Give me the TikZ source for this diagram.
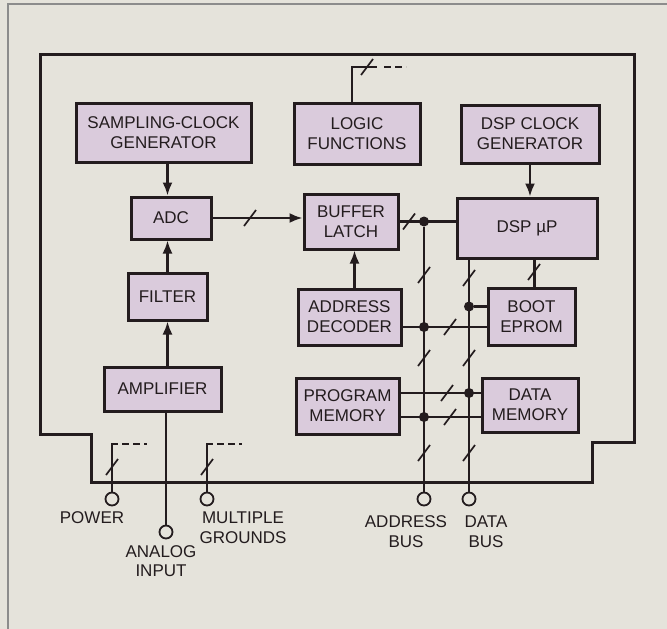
\documentclass[tikz,border=0pt]{standalone}
\usepackage{fontspec}
\setmainfont{Liberation Sans}
\usetikzlibrary{arrows.meta}
\definecolor{paper}{RGB}{229,227,219}
\definecolor{lilac}{RGB}{218,203,220}
\definecolor{ink}{RGB}{35,28,30}
\tikzset{
  block/.style={draw=ink, fill=lilac, text=ink, line width=3pt, inner sep=0pt, align=center, font=\fontsize{17}{20}\selectfont},
  wire/.style={draw=ink, line width=2.2pt},
  arr/.style={wire, -{Latex[length=13pt,width=10pt]}},
  frame/.style={draw=ink, line width=3pt, line join=miter},
  dot/.style={circle, fill=ink, inner sep=0pt, minimum size=10pt},
  term/.style={circle, draw=ink, fill=paper, line width=1.8pt, inner sep=0pt, minimum size=13pt},
  lbl/.style={align=center, text=ink, font=\fontsize{17}{19.5}\selectfont},
  stubs/.style={wire, line width=2pt, dash pattern=on 7pt off 4pt}
}
\newcommand{\busmark}[1]{\draw[wire, line width=1.7pt] (#1) ++(-6,8) -- ++(12,-16);}

\begin{document}
\begin{tikzpicture}[x=1pt, y=-1pt]
\useasboundingbox (0,0) rectangle (667,629);
\fill[paper] (0,0) rectangle (667,629);
\draw[black!45, line width=1.2pt] (8,629) -- (8,4) -- (667,4);
\draw[frame] (40,54) -- (634,54) -- (634,442) -- (592,442) -- (592,482) -- (91,482) -- (91,434) -- (40,434) -- cycle;

\node[block, minimum width=175pt, minimum height=59pt] (samp) at (163.5,132.5) {SAMPLING-CLOCK\\GENERATOR};
\node[block, minimum width=126pt, minimum height=61pt] (logic) at (357,133.5) {LOGIC\\FUNCTIONS};
\node[block, minimum width=138pt, minimum height=58pt] (dspclk) at (530,134) {DSP CLOCK\\GENERATOR};
\node[block, minimum width=80pt, minimum height=42pt] (adc) at (171,218) {ADC};
\node[block, minimum width=94pt, minimum height=55pt] (buf) at (351,221.5) {BUFFER\\LATCH};
\node[block, minimum width=140pt, minimum height=60pt] (dsp) at (527,228) {DSP µP};
\node[block, minimum width=79pt, minimum height=47pt] (filter) at (167.5,296.5) {FILTER};
\node[block, minimum width=103pt, minimum height=56pt] (addr) at (349.5,317) {ADDRESS\\DECODER};
\node[block, minimum width=87pt, minimum height=57pt] (boot) at (531.5,316.5) {BOOT\\EPROM};
\node[block, minimum width=117pt, minimum height=44pt] (amp) at (162.5,389) {AMPLIFIER};
\node[block, minimum width=103pt, minimum height=56pt] (prog) at (347.5,406) {PROGRAM\\MEMORY};
\node[block, minimum width=96pt, minimum height=54pt] (datamem) at (530,405) {DATA\\MEMORY};

\node[term] (power) at (112,499) {};
\node[term] (analog) at (166,532) {};
\node[term] (ground) at (207,499) {};
\node[term] (abus) at (424,499) {};
\node[term] (dbus) at (469,499) {};

\node[lbl] (powerlbl) at (92,518) {POWER};
\node[lbl] (analoglbl) at (161,561) {ANALOG\\INPUT};
\node[lbl] (groundlbl) at (243,527.5) {MULTIPLE\\GROUNDS};
\node[lbl] (abuslbl) at (406,531.5) {ADDRESS\\BUS};
\node[lbl] (dbuslbl) at (486,531.5) {DATA\\BUS};

\draw[arr] (samp.south -| filter) -- (adc.north -| filter);
\draw[arr] (filter.north) -- (adc.south -| filter);
\draw[arr] (amp.north -| filter) -- (filter.south);
\draw[wire] (amp.south -| analog) -- (analog.north);
\draw[arr] (adc.east) -- (buf.west |- adc.east);
\busmark{250,218}
\draw[arr] (dspclk.south) -- (dspclk.south |- dsp.north);

\node[dot] (j1) at (abus |- buf.east) {};
\draw[wire] (buf.east) -- (dsp.west |- buf.east);
\busmark{409,221.5}
\draw[wire] (j1) -- (abus.north);
\draw[wire] (dbus |- dsp.south) -- (dbus.north);
\busmark{424,275}
\busmark{469,278}
\busmark{424,358}
\busmark{469,358}
\busmark{424,453}
\busmark{469,453}

\draw[wire] ([xshift=3pt]boot.north) -- ([xshift=3pt]boot.north |- dsp.south);
\busmark{534,272}
\coordinate (bootin) at ([yshift=10pt]boot.west);
\node[dot] (j2) at (dbus |- bootin) {};
\draw[wire] (j2) -- (bootin);

\coordinate (addrout) at ([yshift=-10pt]addr.east);
\draw[wire] (addrout) -- (boot.west |- addrout);
\node[dot] (j3) at (abus |- addrout) {};
\busmark{450,327}
\draw[arr] ([xshift=5pt]addr.north) -- ([xshift=5pt]addr.north |- buf.south);

\coordinate (progup) at ([yshift=13pt]prog.east);
\coordinate (proglo) at ([yshift=-11pt]prog.east);
\draw[wire] (progup) -- (datamem.west |- progup);
\draw[wire] (proglo) -- (datamem.west |- proglo);
\node[dot] (j4) at (dbus |- progup) {};
\node[dot] (j5) at (abus |- proglo) {};
\busmark{447,393}
\busmark{450,417}

\coordinate (logictop) at (352,67);
\draw[wire] (logic.north -| logictop) -- (logictop) -- ++(25,0);
\draw[stubs] (384,67) -- (406,67);
\busmark{367,67}

\coordinate (powertop) at (112,444);
\draw[wire, line width=2pt] (power.north) -- (powertop) -- ++(6,0);
\draw[stubs] (122,444) -- (147,444);
\busmark{112,467}
\coordinate (groundtop) at (207,444);
\draw[wire, line width=2pt] (ground.north) -- (groundtop) -- ++(6,0);
\draw[stubs] (217,444) -- (242,444);
\busmark{207,467}
\end{tikzpicture}
\end{document}
